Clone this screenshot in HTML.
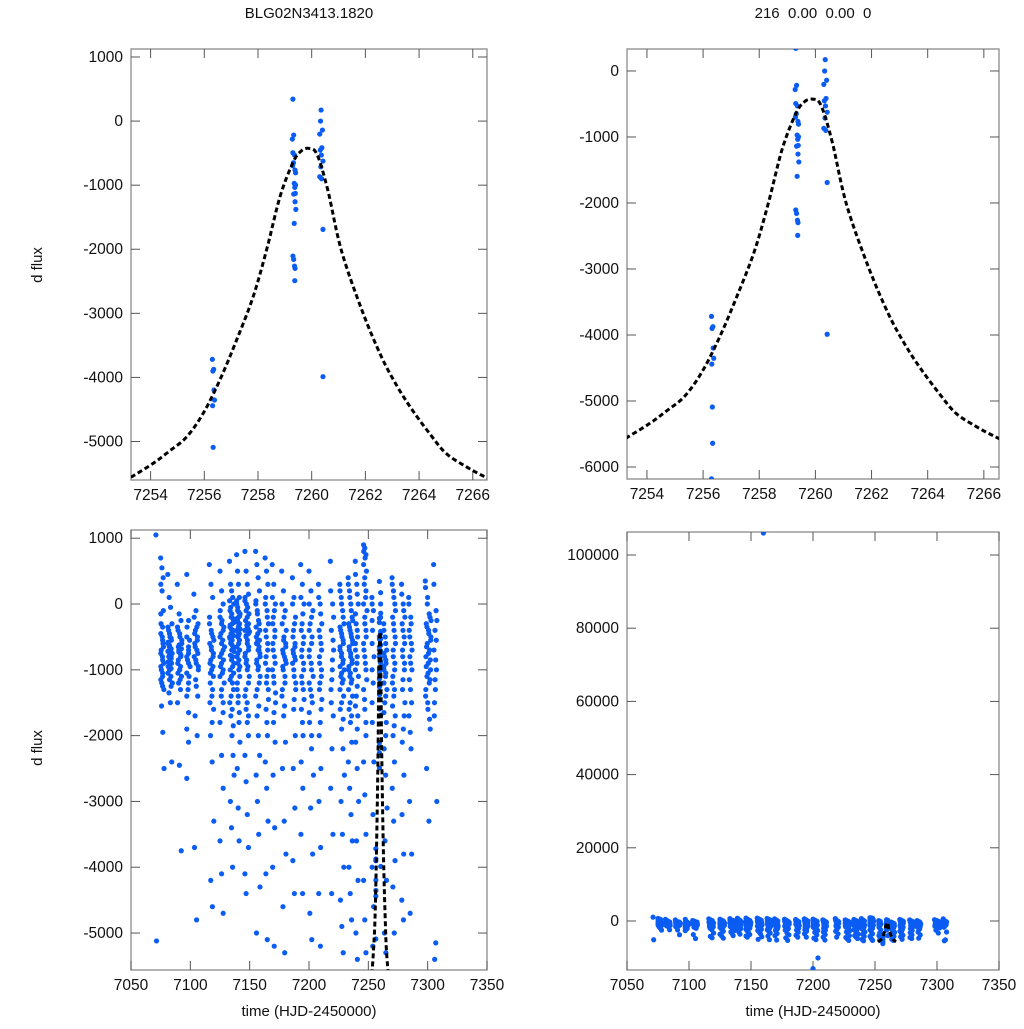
<!DOCTYPE html>
<html><head><meta charset="utf-8"><style>
html,body{margin:0;padding:0;background:#fff;}
svg text{font-family:"Liberation Sans",Arial,sans-serif;fill:#111;}
</style></head><body>
<svg id="chart" width="1024" height="1024" viewBox="0 0 1024 1024" xmlns="http://www.w3.org/2000/svg">
<rect width="1024" height="1024" fill="#fff"/>
<text x="309" y="18" font-size="15" text-anchor="middle">BLG02N3413.1820</text>
<text x="813" y="18" font-size="15" text-anchor="middle" xml:space="preserve">216  0.00  0.00  0</text>
<text transform="translate(42,265) rotate(-90)" font-size="15" text-anchor="middle">d flux</text>
<text transform="translate(42,748) rotate(-90)" font-size="15" text-anchor="middle">d flux</text>
<text x="309" y="1016" font-size="15" text-anchor="middle">time (HJD-2450000)</text>
<text x="813" y="1016" font-size="15" text-anchor="middle">time (HJD-2450000)</text>
</svg>
<script>
// zoomed-in observations near peak
const peakT = [7256.30,7256.35,7256.32,7256.36,7256.38,7256.31,7256.33,7256.34,7256.30,
 7259.30,7259.33,7259.28,7259.30,7259.36,7259.32,7259.29,7259.38,7259.40,7259.35,7259.37,7259.33,7259.38,7259.41,7259.35,7259.30,7259.33,7259.36,7259.38,7259.37,7259.40,7259.39,
 7260.35,7260.33,7260.40,7260.30,7260.38,7260.32,7260.36,7260.42,7260.34,7260.30,7260.37,7260.42,7260.42];
const peakF = [-3718,-3874,-3900,-4197,-4353,-4441,-5091,-5640,-6180,
 343,-218,-281,-494,-530,-650,-697,-764,-806,-972,-1035,-1139,-1259,-1378,-1596,-2106,-2158,-2262,-2298,-2491,-998,-1128,
 172,0,-140,-203,-416,-452,-530,-624,-713,-869,-900,-1690,-3989];
// model curve samples
const modelT = [7252.5,7253.3,7254.1,7254.7,7255.34,7255.96,7256.58,7257.2,7257.82,7258.32,7258.82,7259.3,7259.6,7259.9,7260.2,7260.6,7261.1,7261.87,7262.6,7263.2,7263.75,7264.4,7264.99,7265.7,7266.35,7267.0];
const modelF = [-5750,-5550,-5340,-5150,-4930,-4560,-4040,-3420,-2740,-2010,-1180,-650,-470,-426,-520,-1076,-2010,-2950,-3680,-4150,-4510,-4880,-5180,-5380,-5530,-5660];
// full season: night start times, spans (days), values per night
const nightT = [7071,7075,7081,7089,7097,7103,7116,7125,7133,7139,7146,7155,7163,7169,7177,7186,7193,7200,7208,7218,7226,7233,7239,7246,7253,7263,7270,7278,7284,7298,7305];
const nightSpan = [1,3,4,4,3,4,4,4,4,3,4,4,3,3,4,3,3,4,3,3,4,4,3,3,2,3,3,3,3,5,3];
const nightF = [
[1050,-5120],
[700,550,400,300,200,-100,-300,-500,-650,-700,-800,-900,-1000,-1100,-1300,-1550,-1950,-2500,-1200,-600],
[450,100,-50,-300,-400,-500,-550,-600,-650,-700,-750,-800,-850,-900,-950,-1000,-1100,-1200,-1350,-1500,-2400,-600,-700,-800],
[300,-150,-250,-400,-500,-600,-700,-800,-900,-1000,-1100,-1200,-1300,-1500,-2450,-3750,-650,-750],
[450,-250,-500,-650,-800,-900,-1050,-1200,-1400,-1650,-1900,-2100,-2650,-700],
[150,-100,-300,-400,-500,-600,-700,-800,-900,-1000,-1150,-1400,-1700,-2000,-3700,-4800],
[600,300,100,-200,-400,-500,-600,-700,-800,-900,-1000,-1100,-1200,-1400,-1600,-2000,-2400,-3300,-4200,-4600],
[500,200,0,-200,-300,-400,-500,-600,-700,-800,-900,-1000,-1100,-1300,-1500,-1800,-2300,-2800,-3600,-4100,-4700],
[650,300,200,100,0,-100,-200,-300,-400,-500,-600,-700,-800,-900,-1000,-1100,-1200,-1300,-1500,-1700,-2000,-2300,-2600,-3000,-3400,-4000,-250,-350,-450,-550,-650],
[750,500,300,100,0,-100,-200,-300,-400,-500,-600,-700,-800,-900,-1000,-1100,-1300,-1500,-1800,-2100,-2500,-3100,-3600,-150,-250,-350,-450],
[800,500,300,150,50,-100,-200,-300,-400,-500,-600,-700,-800,-900,-1000,-1200,-1400,-1600,-1800,-2000,-2300,-2700,-3200,-3700,-4100,-4400,-350,-450],
[800,600,400,200,50,-100,-250,-400,-500,-600,-700,-800,-900,-1000,-1200,-1400,-1700,-2000,-2300,-2600,-3000,-3500,-4300,-5000,-550,-650],
[700,500,300,100,-100,-300,-500,-700,-900,-1100,-1300,-1600,-2000,-2400,-2800,-3300,-4100,-5100],
[600,300,0,-200,-400,-600,-800,-1000,-1200,-1500,-1800,-2100,-2600,-3400,-4000,-5200],
[500,200,-100,-300,-500,-600,-700,-800,-900,-1000,-1200,-1400,-1700,-2100,-2500,-3300,-3800,-4600,-5300],
[400,100,-200,-400,-600,-700,-800,-900,-1100,-1300,-1600,-2000,-2500,-3100,-3900,-4400],
[600,300,0,-300,-500,-700,-900,-1100,-1300,-1600,-2000,-2400,-2800,-3500,-4400],
[500,200,-100,-300,-500,-700,-900,-1100,-1300,-1500,-1800,-2200,-2600,-3100,-3800,-4700,-5100],
[300,0,-300,-500,-700,-900,-1100,-1300,-1600,-2000,-2500,-3000,-3700,-4400,-5200],
[650,0,-400,-700,-1000,-1300,-1700,-2200,-2800,-3500,-4400],
[300,100,-100,-300,-400,-500,-600,-700,-800,-900,-1000,-1100,-1200,-1400,-1600,-1900,-2200,-2600,-3000,-3500,-4000,-4500,-4900,-5300],
[400,200,0,-200,-300,-400,-500,-600,-700,-800,-900,-1000,-1100,-1200,-1400,-1600,-1800,-2100,-2400,-2800,-3200,-3600,-4000,-4400,-4800],
[650,300,0,-300,-500,-700,-900,-1100,-1400,-1700,-2100,-2500,-3000,-3600,-4200,-5000,-5400],
[900,850,750,600,400,200,0,-200,-400,-600,-800,-1000,-1300,-1600,-2000,-2400,-2900,-3500,-4200,-4800,-5300],
[100,-100,-400,-800,-1200,-1800,-2400,-3200,-4000,-4600,-5200],
[-300,-500,-700,-800,-900,-1000,-1100,-1300,-1500,-1800,-2200,-2600,-3100,-3600,-4200,-5000,-5300],
[400,200,0,-200,-400,-600,-800,-1000,-1200,-1400,-1700,-2000,-2400,-2800,-3300,-3900,-4300,-5000],
[300,0,-200,-400,-600,-800,-1000,-1300,-1700,-2100,-2600,-3200,-3800,-4500,-4800],
[100,-200,-400,-600,-800,-1000,-1300,-1700,-2200,-3000,-3800,-4700],
[350,100,-200,-300,-400,-500,-600,-700,-800,-900,-1000,-1100,-1200,-1400,-1600,-1900,-2500,-3300],
[600,-100,-400,-700,-1000,-1300,-1700,-3000,-5150,-5400]
];
// dense core measurements per night (between the streak rows)
const nightCore = [
[],
[-150,-350,-450,-550,-750,-850,-950,-1050,-1150,-1250],
[-350,-450,-520,-580,-630,-680,-720,-780,-830,-880,-920,-980,-1050,-1150,-1250],
[-350,-450,-550,-620,-680,-730,-780,-850,-950,-1050,-1150],
[-350,-550,-750,-850,-950,-1100,-1300],
[-200,-350,-450,-550,-650,-750,-850,-950,-1250],
[-300,-450,-550,-650,-750,-850,-950,-1050,-1300,-1500,-1800],
[-100,-250,-350,-450,-550,-650,-750,-850,-950,-1050,-1200,-1400,-1650],
[50,-50,-150,-220,-280,-320,-380,-420,-480,-520,-580,-620,-680,-720,-780,-850,-950,-1050,-1150,-1400,-1600,-1850],
[50,-50,-120,-180,-220,-280,-320,-380,-420,-480,-550,-650,-750,-850,-950,-1200,-1400,-1650],
[100,0,-50,-150,-250,-320,-380,-420,-480,-550,-650,-750,-850,-950,-1100,-1300,-1500,-1700],
[0,-150,-300,-350,-450,-550,-600,-700,-750,-850,-950,-1100,-1300,-1550],
[0,-200,-400,-600,-800,-1000,-1200,-1450,-1800],
[100,-100,-300,-500,-700,-900,-1100,-1350,-1650],
[0,-200,-400,-550,-650,-750,-850,-950,-1100,-1300,-1550],
[0,-300,-500,-650,-750,-850,-1000,-1200,-1450],
[100,-150,-400,-600,-800,-1000,-1200,-1450,-1800],
[0,-200,-400,-600,-800,-1000,-1200,-1400,-1650,-2000],
[100,-150,-400,-600,-800,-1000,-1200,-1450,-1800],
[200,-200,-550,-850,-1150,-1500],
[200,0,-200,-350,-450,-550,-650,-750,-850,-950,-1050,-1150,-1300,-1500,-1750],
[300,100,-100,-250,-350,-450,-550,-650,-750,-850,-950,-1050,-1150,-1300,-1500,-1700],
[450,150,-150,-400,-600,-800,-1000,-1250,-1550,-1900],
[800,700,500,300,100,-100,-300,-500,-700,-900,-1150,-1450,-1800],
[0,-250,-600,-1000,-1500],
[-400,-600,-750,-850,-950,-1050,-1200,-1400,-1650,-2000],
[300,100,-100,-300,-500,-700,-900,-1100,-1300,-1550,-1850],
[150,-100,-300,-500,-700,-900,-1150,-1500,-1900],
[0,-300,-500,-700,-900,-1150,-1500,-1950],
[250,0,-150,-250,-350,-450,-550,-650,-750,-850,-950,-1050,-1150,-1300,-1500,-1750],
[300,-250,-550,-850,-1150,-1500]
];
const outlierT = [7160,7204,7200];
const outlierF = [106000,-10100,-13000];
const ticksTopX = [7254,7256,7258,7260,7262,7264,7266];
const ticksTLY = [-5000,-4000,-3000,-2000,-1000,0,1000];
const ticksTRY = [-6000,-5000,-4000,-3000,-2000,-1000,0];
const ticksBotX = [7050,7100,7150,7200,7250,7300,7350];
const ticksBLY = [-5000,-4000,-3000,-2000,-1000,0,1000];
const ticksBRY = [0,20000,40000,60000,80000,100000];

const NS = 'http://www.w3.org/2000/svg';
const svg = document.getElementById('chart');
function mk(tag, attrs, parent){const e=document.createElementNS(NS,tag);for(const k in attrs)e.setAttribute(k,attrs[k]);(parent||svg).appendChild(e);return e;}

const panels = [
 {id:'top-left',x0:131,x1:487,y0:49,y1:480,t0:7253.27,t1:7266.53,v0:1125,v1:-5601,xt:ticksTopX,yt:ticksTLY,full:false},
 {id:'top-right',x0:627,x1:999,y0:49,y1:479,t0:7253.29,t1:7266.54,v0:333,v1:-6182,xt:ticksTopX,yt:ticksTRY,full:false},
 {id:'bottom-left',x0:131,x1:487,y0:530,y1:970,t0:7050,t1:7350,v0:1125,v1:-5562,xt:ticksBotX,yt:ticksBLY,full:true},
 {id:'bottom-right',x0:627,x1:999,y0:532,y1:970,t0:7050,t1:7350,v0:106284,v1:-13388,xt:ticksBotX,yt:ticksBRY,full:true}
];

panels.forEach((p,pi)=>{
 const sx=t=>p.x0+(t-p.t0)/(p.t1-p.t0)*(p.x1-p.x0);
 const sy=v=>p.y0+(p.v0-v)/(p.v0-p.v1)*(p.y1-p.y0);
 const g=mk('g',{});
 
 
 const cp=mk('clipPath',{id:'cp'+pi},g);
 mk('rect',{x:p.x0,y:p.y0,width:p.x1-p.x0,height:p.y1-p.y0},cp);
 const frame=mk('rect',{x:p.x0,y:p.y0,width:p.x1-p.x0,height:p.y1-p.y0,fill:'none',stroke:'#8a8a8a','stroke-width':1.3},g);
 
 
 p.xt.forEach(t=>{
  const x=sx(t);
  mk('line',{x1:x,x2:x,y1:p.y1,y2:p.y1-9,stroke:'#555','stroke-width':1},g);
  mk('line',{x1:x,x2:x,y1:p.y0,y2:p.y0+9,stroke:'#555','stroke-width':1},g);
  const tx=mk('text',{x:x,y:p.y1+20,'font-size':15.5,'text-anchor':'middle'},g);
  tx.textContent=t;
  
  
 });
 p.yt.forEach(v=>{
  const y=sy(v);
  mk('line',{x1:p.x0,x2:p.x0+9,y1:y,y2:y,stroke:'#555','stroke-width':1},g);
  mk('line',{x1:p.x1,x2:p.x1-9,y1:y,y2:y,stroke:'#555','stroke-width':1},g);
  const tx=mk('text',{x:p.x0-8,y:y+5,'font-size':15.5,'text-anchor':'end'},g);
  tx.textContent=v;
  
  
 });
 const pts=mk('g',{'clip-path':'url(#cp'+pi+')',fill:'#0a5cf2'},g);
 
 
 if(!p.full){
  peakT.forEach((t,i)=>{
   const c=mk('circle',{cx:sx(t),cy:sy(peakF[i]),r:2.6},pts);
   
   
  });
 } else {
  nightT.forEach((t0,ni)=>{
   const vals=nightF[ni];
   vals.forEach((v,i)=>{
    const t=t0+nightSpan[ni]*((i*7)%vals.length)/vals.length;
    const c=mk('circle',{cx:sx(t),cy:sy(v),r:2.6},pts);
    
    
   });
   const core=nightCore[ni];
   core.forEach((v,i)=>{
    const t=t0+nightSpan[ni]*(((i*5)%core.length)+0.5)/core.length;
    const c=mk('circle',{cx:sx(t),cy:sy(v),r:2.6},pts);
    
    
   });
  });
  peakT.forEach((t,i)=>{
   const c=mk('circle',{cx:sx(t),cy:sy(peakF[i]),r:2.6},pts);
   
   
  });
  if(p.id==='bottom-right'){
   outlierT.forEach((t,i)=>{
    const c=mk('circle',{cx:sx(t),cy:sy(outlierF[i]),r:2.6},pts);
    
    
   });
  }
 }
 // smooth curve (Catmull-Rom)
 const P=modelT.map((t,i)=>[sx(t),sy(modelF[i])]);
 let d='M'+P[0][0].toFixed(2)+','+P[0][1].toFixed(2);
 for(let i=0;i<P.length-1;i++){
  const p0=P[Math.max(0,i-1)],p1=P[i],p2=P[i+1],p3=P[Math.min(P.length-1,i+2)];
  const c1=[p1[0]+(p2[0]-p0[0])/6,p1[1]+(p2[1]-p0[1])/6];
  const c2=[p2[0]-(p3[0]-p1[0])/6,p2[1]-(p3[1]-p1[1])/6];
  d+='C'+c1[0].toFixed(2)+','+c1[1].toFixed(2)+' '+c2[0].toFixed(2)+','+c2[1].toFixed(2)+' '+p2[0].toFixed(2)+','+p2[1].toFixed(2);
 }
 const path=mk('path',{d:d,fill:'none',stroke:'#000','stroke-width':3,'stroke-dasharray':'5,3','clip-path':'url(#cp'+pi+')'},g);
 
 
});
</script>
</body></html>
